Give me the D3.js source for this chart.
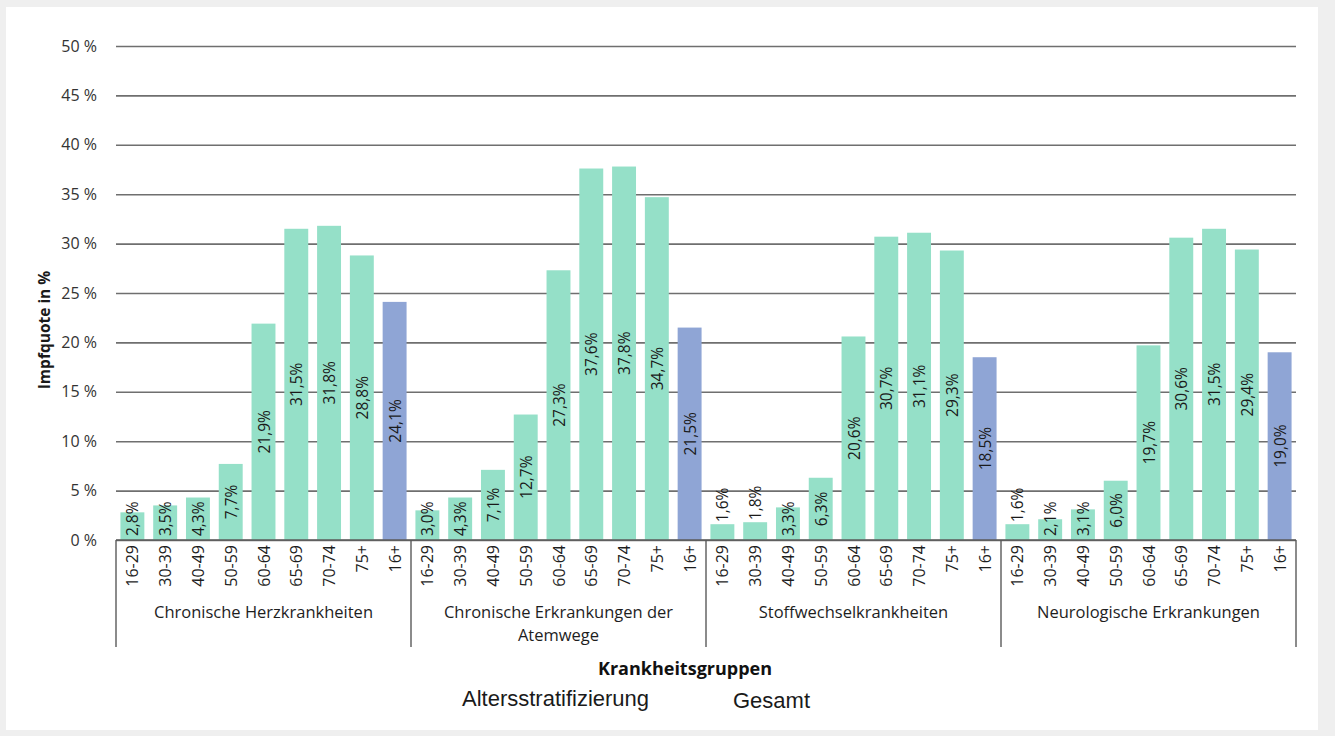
<!DOCTYPE html>
<html>
<head>
<meta charset="utf-8">
<script src="https://cdn.jsdelivr.net/npm/d3@7/dist/d3.min.js"></script>
<style>
  html, body { margin: 0; padding: 0; background: #efefef; }
  svg { display: block; }
</style>
</head>
<body>
<svg id="chart" width="1335" height="736"></svg>
<script>
// Vaccination rates by disease group and age band
const groups = [
  ["Chronische Herzkrankheiten"],
  ["Chronische Erkrankungen der", "Atemwege"],
  ["Stoffwechselkrankheiten"],
  ["Neurologische Erkrankungen"]
];
const ageBands = ["16-29", "30-39", "40-49", "50-59", "60-64", "65-69", "70-74", "75+", "16+"];
const herz = [2.8, 3.5, 4.3, 7.7, 21.9, 31.5, 31.8, 28.8, 24.1];
const atemwege = [3.0, 4.3, 7.1, 12.7, 27.3, 37.6, 37.8, 34.7, 21.5];
const stoffwechsel = [1.6, 1.8, 3.3, 6.3, 20.6, 30.7, 31.1, 29.3, 18.5];
const neuro = [1.6, 2.1, 3.1, 6.0, 19.7, 30.6, 31.5, 29.4, 19.0];
const yTicks = [0, 5, 10, 15, 20, 25, 30, 35, 40, 45, 50];

const seriesByGroup = [herz, atemwege, stoffwechsel, neuro];
const colorAge = "#95e0c8";
const colorTotal = "#8fa5d5";

const svg = d3.select("#chart");
// card background
svg.append("rect").attr("x", 6).attr("y", 7).attr("width", 1312).attr("height", 723).attr("fill", "#ffffff");

const plotLeft = 116, plotRight = 1296, plotTop = 46, plotBase = 540;
const y = d3.scaleLinear().domain([0, 50]).range([plotBase, plotTop]);
const gx = d3.scaleBand().domain(d3.range(groups.length)).range([plotLeft, plotRight]).padding(0);
const ax = d3.scaleBand().domain(ageBands).range([0, gx.bandwidth()]).paddingInner(0.27).paddingOuter(0.135);

const font = "'Open Sans', 'Noto Sans', sans-serif";

// horizontal gridlines + y tick labels
const yAxis = d3.axisLeft(y).tickValues(yTicks).tickSize(-(plotRight - plotLeft)).tickFormat(d => d + " %").tickPadding(19);
const yg = svg.append("g").attr("transform", `translate(${plotLeft},0)`).call(yAxis);
yg.select(".domain").remove();
yg.selectAll(".tick line").attr("stroke", "#6f6f6f").attr("stroke-width", 1.6);
yg.selectAll(".tick text").attr("font-family", font).attr("font-size", 16).attr("fill", "#333");

// y axis title
svg.append("text")
  .attr("transform", `translate(50,330) rotate(-90)`)
  .attr("text-anchor", "middle")
  .attr("font-family", font).attr("font-weight", "bold").attr("font-size", 15.5)
  .attr("fill", "#1a1a1a")
  .text("Impfquote in %");

const rows = [];
seriesByGroup.forEach((vals, gi) => vals.forEach((v, i) => rows.push({ gi, age: ageBands[i], v, total: ageBands[i] === "16+" })));

const xc = d => gx(d.gi) + ax(d.age) + ax.bandwidth() / 2;

// bars
svg.append("g").selectAll("rect").data(rows).join("rect")
  .attr("x", d => gx(d.gi) + ax(d.age))
  .attr("width", ax.bandwidth())
  .attr("y", d => y(d.v))
  .attr("height", d => plotBase - y(d.v))
  .attr("fill", d => d.total ? colorTotal : colorAge);

// value labels, rotated, centred in bar; short bars get label above
const fmt = v => v.toFixed(1).replace(".", ",") + "%";
const labels = svg.append("g").selectAll("text").data(rows).join("text")
  .attr("font-family", font).attr("font-size", 15.5).attr("fill", "#1a1a1a")
  .attr("text-anchor", "middle").attr("dominant-baseline", "central")
  .text(d => fmt(d.v));
labels.each(function (d) {
  const len = this.getComputedTextLength();
  const barH = plotBase - y(d.v);
  let c;
  if (barH < 20) {
    c = y(d.v) - 2 - len / 2;
  } else {
    c = (y(d.v) + plotBase) / 2;
    if (c + len / 2 > plotBase - 4) c = plotBase - 4 - len / 2;
  }
  d3.select(this).attr("transform", `translate(${xc(d)},${c}) rotate(-90)`);
});

// x baseline
svg.append("line").attr("x1", plotLeft).attr("x2", plotRight).attr("y1", plotBase).attr("y2", plotBase)
  .attr("stroke", "#5a5a5a").attr("stroke-width", 1.4);

// group separators
const seps = d3.range(groups.length + 1).map(i => i < groups.length ? gx(i) : plotRight);
svg.append("g").selectAll("line").data(seps).join("line")
  .attr("x1", d => d).attr("x2", d => d).attr("y1", plotBase).attr("y2", 647)
  .attr("stroke", "#5a5a5a").attr("stroke-width", 1.4);

// age tick labels
svg.append("g").selectAll("text").data(rows).join("text")
  .attr("transform", d => `translate(${xc(d)},${plotBase + 5}) rotate(-90)`)
  .attr("text-anchor", "end").attr("dominant-baseline", "central")
  .attr("font-family", font).attr("font-size", 16).attr("fill", "#1e1e1e")
  .text(d => d.age);

// group labels
groups.forEach((lines, gi) => {
  const t = svg.append("text")
    .attr("x", gx(gi) + gx.bandwidth() / 2).attr("y", 618)
    .attr("text-anchor", "middle")
    .attr("font-family", font).attr("font-size", 16.5).attr("fill", "#1e1e1e");
  lines.forEach((s, k) => t.append("tspan").attr("x", gx(gi) + gx.bandwidth() / 2).attr("dy", k === 0 ? 0 : 23).text(s));
});

// x axis title
svg.append("text").attr("x", 685).attr("y", 675).attr("text-anchor", "middle")
  .attr("font-family", font).attr("font-weight", "bold").attr("font-size", 18).attr("fill", "#111")
  .text("Krankheitsgruppen");

// bottom captions
svg.append("text").attr("x", 462).attr("y", 706)
  .attr("font-family", "'Liberation Sans', Arial, sans-serif").attr("font-size", 22).attr("fill", "#1a1a1a")
  .text("Altersstratifizierung");
svg.append("text").attr("x", 733).attr("y", 708)
  .attr("font-family", "'Liberation Sans', Arial, sans-serif").attr("font-size", 22).attr("fill", "#1a1a1a")
  .text("Gesamt");
</script>
</body>
</html>
